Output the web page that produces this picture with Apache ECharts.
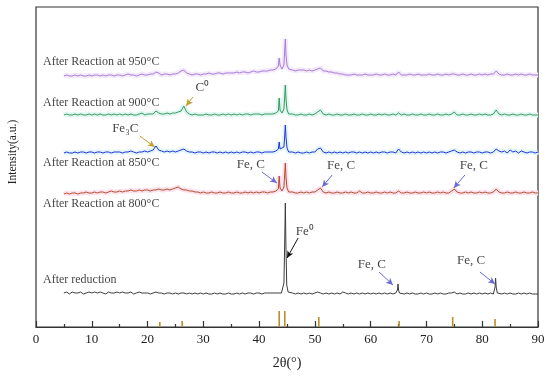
<!DOCTYPE html>
<html><head><meta charset="utf-8">
<script src="https://cdn.jsdelivr.net/npm/echarts@6/dist/echarts.min.js"></script>
<style>html,body{margin:0;padding:0;background:#fff}#c{width:550px;height:377px}</style>
</head><body><div id="c"></div>
<script>
// grid of 2θ from 5° to 90° in 0.5° steps
const xStart = 5, xStep = 0.5;
const xTicks = [0,10,20,30,40,50,60,70,80,90];

const s950 = [
251,252,251,251,252,251,252,251,251,252,
251,252,252,251,252,251,252,252,251,252,
252,251,252,253,252,252,251,252,253,252,
252,253,253,255,254,252,253,253,252,253,
253,254,256,257,254,253,252,253,253,252,
253,253,254,253,253,254,254,253,254,254,
254,254,255,254,255,255,254,255,256,255,
255,256,256,256,257,257,258,258,259,258,
258,257,257,256,257,257,257,256,257,256,
257,258,259,256,256,255,255,254,254,253,
253,252,252,252,253,252,252,252,253,252,
252,252,253,252,252,253,252,252,253,252,
255,252,252,252,253,252,252,253,252,252,
252,253,252,252,253,252,252,253,252,253,
253,252,252,253,252,252,253,252,252,253,
252,253,252,253,253,256,253,252,252,253,
252,252,253,252,253,252,252,253,252,252,
252];
const s900 = [
212,213,212,212,213,212,213,212,212,213,
212,213,212,213,212,212,213,212,213,212,
213,212,213,212,213,212,212,213,214,212,
213,213,213,216,214,213,213,214,213,214,
214,215,216,221,215,213,212,213,212,212,
212,213,212,212,213,212,212,213,212,213,
212,213,212,213,212,213,213,212,213,213,
213,212,213,213,213,213,214,215,214,215,
213,212,213,212,212,213,212,212,213,212,
213,215,217,213,212,213,212,212,213,212,
212,213,212,212,213,212,212,213,212,212,
213,212,212,213,212,213,212,212,213,212,
214,212,213,212,212,213,212,212,213,212,
212,213,212,212,213,212,212,213,212,213,
215,212,212,213,212,212,213,212,212,213,
212,213,212,212,213,217,213,212,213,212,
212,213,212,212,213,212,212,213,212,212,
212];
const s850 = [
174,175,174,174,175,174,175,175,174,175,
175,174,175,175,174,175,175,174,175,175,
175,174,175,175,176,175,174,175,175,176,
175,176,177,181,177,176,175,176,175,176,
175,176,177,178,176,175,175,174,175,175,
174,175,174,175,175,174,175,174,175,174,
175,174,175,174,175,175,174,175,174,175,
175,174,175,175,175,175,176,176,177,176,
175,174,175,174,175,174,174,175,174,175,
175,178,179,175,174,175,174,175,174,175,
174,175,174,175,175,174,175,174,175,174,
175,174,175,174,175,175,174,175,175,174,
178,175,174,175,174,175,174,175,174,175,
174,175,174,175,174,175,175,174,175,176,
177,175,174,175,174,175,175,174,175,175,
174,175,175,174,175,178,176,175,176,174,
177,175,176,174,176,175,174,175,175,174,
175];
const s800 = [
133,134,133,134,134,133,134,134,135,134,
134,135,134,135,135,134,135,136,135,135,
136,135,136,136,137,136,136,137,136,137,
137,136,137,137,138,137,137,138,137,138,
139,140,138,137,137,136,136,135,135,134,
135,134,134,135,134,134,135,134,134,135,
134,134,135,134,134,135,134,135,134,135,
134,135,135,134,135,135,136,136,137,136,
135,134,135,134,134,135,134,135,134,135,
135,137,139,135,134,135,134,134,135,134,
134,135,134,135,134,134,136,134,134,135,
134,134,135,134,134,135,134,135,134,134,
136,134,134,135,134,134,135,134,134,135,
134,135,134,134,135,134,135,134,134,136,
138,135,134,134,135,134,135,134,134,135,
134,135,134,134,135,138,135,134,134,135,
134,134,135,134,134,135,134,134,135,134,
134];
const sRed = [
34,35,33,35,34,34,35,33,34,35,
34,35,34,35,34,33,35,34,34,35,
34,35,34,34,35,33,34,35,34,34,
34,33,34,35,34,34,33,34,34,33,
34,33,34,34,33,34,33,34,33,34,
33,34,33,33,34,33,34,33,33,34,
33,33,34,33,34,33,34,34,33,34,
34,33,34,34,34,34,34,34,34,34,
34,33,34,33,34,33,34,33,34,33,
34,35,34,33,34,33,34,33,34,33,
35,34,33,34,33,34,33,34,33,34,
33,34,33,34,33,34,33,34,33,34,
34,34,33,34,33,34,33,33,34,33,
34,33,33,34,33,34,33,33,34,34,
35,33,34,33,33,34,33,34,33,34,
33,34,33,34,33,34,34,33,34,33,
34,33,33,34,33,34,33,34,33,33,
33];

// fine-resolution peak groups [2θ, intensity]
const p950 = [[[43.2,257],[43.45,261],[43.6,269],[43.75,262],[44.1,258],[44.45,262],[44.6,278],[44.7,288],[44.82,272],[45.0,262],[45.3,258]]];
const p900 = [[[43.2,213],[43.45,216],[43.6,229],[43.75,217],[44.1,214],[44.45,218],[44.6,232],[44.7,242],[44.82,228],[45.0,217],[45.3,213]]];
const p850 = [[[43.2,175],[43.45,178],[43.6,185],[43.75,178],[44.1,176],[44.45,180],[44.6,192],[44.7,202],[44.82,190],[45.0,179],[45.3,175]]];
const p800 = [[[43.2,135],[43.45,138],[43.6,151],[43.75,139],[44.1,136],[44.45,140],[44.6,154],[44.7,164],[44.82,150],[45.0,139],[45.3,135]]];
const pRed = [
  [[44.2,34],[44.45,44],[44.6,88],[44.7,124],[44.8,84],[44.95,42],[45.2,35]],
  [[64.7,34],[64.8,37],[64.9,43],[65.0,37],[65.15,34]],
  [[82.1,34],[82.3,40],[82.4,49],[82.5,40],[82.7,34]]
];

// reference stick pattern
const sticks = [[22.2,5],[26.2,6],[43.6,16],[44.6,16],[50.7,10],[65.1,6],[74.7,10],[82.3,8]];

const traceNames = ['After Reaction at 950°C','After Reaction at 900°C','After Reaction at 850°C','After Reaction at 800°C','After reduction'];
const traceLabelPos = [[1.25,265],[1.25,224],[1.25,164],[1.25,123],[1.25,47]];

const annoText = ['C⁰','Fe₃C','Fe, C','Fe, C','Fe, C','Fe⁰','Fe, C','Fe, C'];
const annoPos = [[29.8,239],[16.0,198],[38.5,162],[54.7,161],[78.5,161],[48.2,95],[60.2,62],[78.0,66]];
const arrowFrom = [[28.15,230],[18.6,191],[40.5,155],[53.1,152],[76.9,152],[47.0,89],[61.5,55],[79.6,55]];
const arrowTo = [[26.9,221],[21.3,180],[43.2,144],[51.3,140],[74.9,139],[45.0,69],[64.0,42],[82.3,43]];
const arrowColors = ['#c0a030','#c0a030','#6b6bd6','#6b6bd6','#6b6bd6','#111','#6b6bd6','#6b6bd6'];

function build(grid, groups){
  let pts = grid.map((v,i)=>[xStart+i*xStep, v]);
  groups.forEach(g=>{
    const a=g[0][0], b=g[g.length-1][0];
    pts = pts.filter(p=>p[0]<a||p[0]>b).concat(g);
  });
  pts.sort((p,q)=>p[0]-q[0]);
  return pts;
}

const traces = [
  {d:build(s950,p950), c:'#a77bd8', h:'#f3eafb'},
  {d:build(s900,p900), c:'#3a9a5c', h:'#dff6f2'},
  {d:build(s850,p850), c:'#2233d8', h:'#e2f5fa'},
  {d:build(s800,p800), c:'#b0502e', h:'#fde2ee'},
  {d:build(sRed,pRed), c:'#3c3c3c', h:null}
];

const serif = 'Liberation Serif, Times New Roman, serif';
const series = [];
traces.forEach(t=>{
  if(t.h) series.push({type:'line', data:t.d, showSymbol:false, silent:true, z:1,
    lineStyle:{color:t.h, width:5}, animation:false});
});
traces.forEach((t,i)=>{
  const s = {type:'line', data:t.d, showSymbol:false, z:3, lineStyle:{color:t.c, width:1}, animation:false};
  series.push(s);
});
series.push({
  type:'custom', z:4, data:sticks, animation:false,
  renderItem:(params, api)=>{
    const p0 = api.coord([api.value(0), 0]);
    const p1 = api.coord([api.value(0), api.value(1)]);
    return {type:'line', shape:{x1:p0[0],y1:p0[1],x2:p1[0],y2:p1[1]}, style:{stroke:'#b8902a', lineWidth:1.6}};
  }
});
series.push({
  type:'line', data:[], z:5, animation:false,
  markLine:{silent:true, symbol:['none','arrow'], symbolSize:[5,7], animation:false,
    label:{show:false},
    data: arrowFrom.map((f,i)=>[{coord:f, lineStyle:{color:arrowColors[i], width:1, type:'solid'}},{coord:arrowTo[i]}])
  }
});
series.push({
  type:'scatter', symbolSize:0, z:6, animation:false,
  data: traceLabelPos.map((p,i)=>[p[0],p[1],traceNames[i]]),
  label:{show:true, position:'inside', align:'left', verticalAlign:'middle', formatter:p=>p.data[2],
    fontFamily:serif, fontSize:12, color:'#111'}
});
series.push({
  type:'scatter', symbolSize:0, z:6, animation:false,
  data: annoPos.map((p,i)=>[p[0],p[1],annoText[i]]),
  label:{show:true, position:'inside', align:'center', verticalAlign:'middle', formatter:p=>p.data[2],
    fontFamily:serif, fontSize:13, color:'#111'}
});

const chart = echarts.init(document.getElementById('c'), null, {renderer:'canvas'});
chart.setOption({
  animation:false,
  backgroundColor:'#fff',
  grid:{left:36, right:12, top:7, bottom:50, show:true, borderColor:'#333', borderWidth:1.2, backgroundColor:'transparent'},
  xAxis:{type:'value', min:0, max:90, interval:10,
    axisLine:{show:true, lineStyle:{color:'#333', width:1.2}},
    axisTick:{show:true, inside:true, length:6, lineStyle:{color:'#333', width:1.2}},
    minorTick:{show:true, splitNumber:2, length:3, lineStyle:{color:'#333', width:1.2}},
    splitLine:{show:false}, minorSplitLine:{show:false},
    axisLabel:{margin:6, fontFamily:serif, fontSize:13, color:'#222',
      formatter:v=> xTicks.indexOf(v)>=0 ? String(v) : ''}
  },
  yAxis:{type:'value', min:0, max:320, axisLine:{show:false}, axisTick:{show:false},
    axisLabel:{show:false}, splitLine:{show:false}},
  graphic:[
    {type:'text', x:13, y:152, rotation:Math.PI/2, style:{text:'Intensity(a.u.)', font:'11.5px '+serif, fill:'#222', align:'center', verticalAlign:'middle'}},
    {type:'text', x:287, y:363, style:{text:'2θ(°)', font:'14px '+serif, fill:'#222', align:'center', verticalAlign:'middle'}}
  ],
  series: series
});
</script></body></html>
